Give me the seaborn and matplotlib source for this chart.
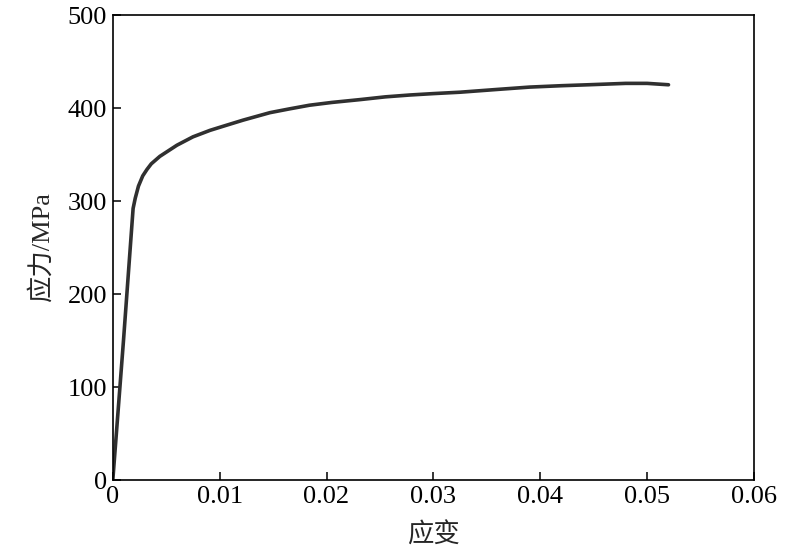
import numpy as np
import pandas as pd
import matplotlib
matplotlib.use("Agg")
import matplotlib.pyplot as plt
import seaborn as sns

# Stress-strain curve
strain = [0, 0.0010, 0.0019, 0.0021, 0.0024, 0.0028, 0.0032, 0.0036, 0.0044, 0.0052,
          0.0060, 0.0075, 0.0091, 0.0105, 0.0122, 0.0147, 0.0165, 0.0184, 0.0205, 0.0231,
          0.0255, 0.0278, 0.0300, 0.0325, 0.0360, 0.0390, 0.0420, 0.0445, 0.0480, 0.0500,
          0.0520]
stress = [0, 150, 292, 303, 316, 327, 334, 340, 348, 354,
          360, 369, 376, 381, 387, 395, 399, 403, 406, 409,
          412, 414, 415.5, 417, 420, 422.5, 424, 425, 426.5, 426.5,
          425]

x_ticks = [0, 0.01, 0.02, 0.03, 0.04, 0.05, 0.06]
x_tick_labels = ["0", "0.01", "0.02", "0.03", "0.04", "0.05", "0.06"]
y_ticks = [0, 100, 200, 300, 400, 500]

df = pd.DataFrame({"strain": strain, "stress": stress})

sns.set_style("ticks")
plt.rcParams['font.family'] = ['Liberation Serif', 'Noto Sans CJK SC', 'DejaVu Sans']
plt.rcParams['axes.unicode_minus'] = False

fig = plt.figure(figsize=(8, 5.52), dpi=100)
ax = fig.add_axes([0.141, 0.1304, 0.8015, 0.8424])

sns.lineplot(data=df, x="strain", y="stress", ax=ax, color="#303030",
             linewidth=2.6, sort=False)
ax.lines[0].set_solid_joinstyle("round")
ax.lines[0].set_solid_capstyle("round")

ax.set_xlim(0, 0.06)
ax.set_ylim(0, 500)
ax.set_xticks(x_ticks)
ax.set_xticklabels(x_tick_labels)
ax.set_yticks(y_ticks)

ax.tick_params(direction="in", length=6, width=1.1, labelsize=19, pad=4,
               colors="black", top=False, right=False)
for side in ["top", "right", "bottom", "left"]:
    ax.spines[side].set_visible(True)
    ax.spines[side].set_linewidth(1.2)
    ax.spines[side].set_color("black")

ax.set_xlabel("应变", fontsize=19, family=['Noto Sans CJK SC'], labelpad=10)
ax.set_ylabel("应力/MPa", fontsize=19, family=['Liberation Serif', 'Noto Sans CJK SC'], labelpad=10)

fig.savefig("out.png", dpi=100)
